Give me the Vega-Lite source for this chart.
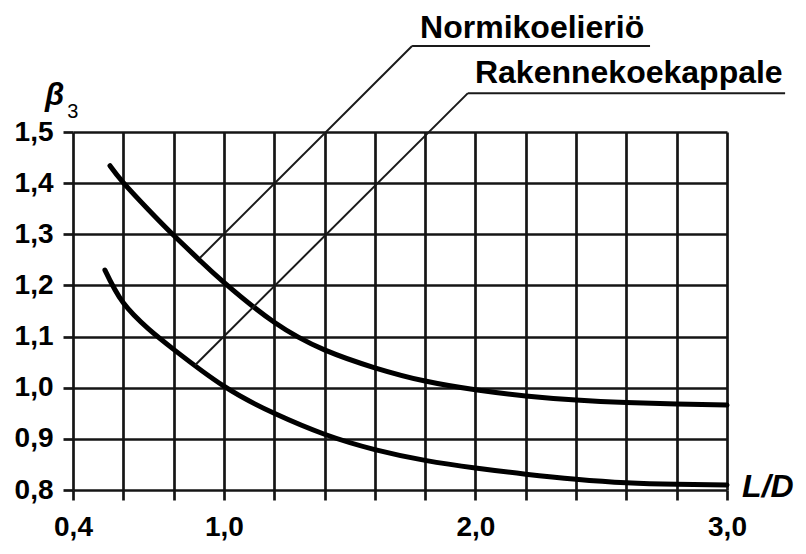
{
  "$schema": "https://vega.github.io/schema/vega-lite/v6.json",
  "width": 654,
  "height": 358,
  "autosize": {"type": "none"},
  "padding": {"left": 73, "top": 132, "right": 79, "bottom": 64},
  "background": "white",
  "config": {"view": {"stroke": null}},
  "datasets": {
    "curves": [
      {"series": "Normikoelieriö", "ld": 0.547, "beta": 1.434},
      {"series": "Normikoelieriö", "ld": 0.6, "beta": 1.401},
      {"series": "Normikoelieriö", "ld": 0.7, "beta": 1.348},
      {"series": "Normikoelieriö", "ld": 0.8, "beta": 1.298},
      {"series": "Normikoelieriö", "ld": 0.9, "beta": 1.251},
      {"series": "Normikoelieriö", "ld": 1.0, "beta": 1.206},
      {"series": "Normikoelieriö", "ld": 1.2, "beta": 1.128},
      {"series": "Normikoelieriö", "ld": 1.4, "beta": 1.074},
      {"series": "Normikoelieriö", "ld": 1.6, "beta": 1.039},
      {"series": "Normikoelieriö", "ld": 1.8, "beta": 1.013},
      {"series": "Normikoelieriö", "ld": 2.0, "beta": 0.996},
      {"series": "Normikoelieriö", "ld": 2.2, "beta": 0.984},
      {"series": "Normikoelieriö", "ld": 2.4, "beta": 0.976},
      {"series": "Normikoelieriö", "ld": 2.6, "beta": 0.971},
      {"series": "Normikoelieriö", "ld": 2.8, "beta": 0.968},
      {"series": "Normikoelieriö", "ld": 3.0, "beta": 0.966},
      {"series": "Rakennekoekappale", "ld": 0.527, "beta": 1.230},
      {"series": "Rakennekoekappale", "ld": 0.6, "beta": 1.166},
      {"series": "Rakennekoekappale", "ld": 0.7, "beta": 1.115},
      {"series": "Rakennekoekappale", "ld": 0.8, "beta": 1.075},
      {"series": "Rakennekoekappale", "ld": 1.0, "beta": 1.003},
      {"series": "Rakennekoekappale", "ld": 1.2, "beta": 0.950},
      {"series": "Rakennekoekappale", "ld": 1.4, "beta": 0.909},
      {"series": "Rakennekoekappale", "ld": 1.6, "beta": 0.879},
      {"series": "Rakennekoekappale", "ld": 1.8, "beta": 0.858},
      {"series": "Rakennekoekappale", "ld": 2.0, "beta": 0.843},
      {"series": "Rakennekoekappale", "ld": 2.2, "beta": 0.831},
      {"series": "Rakennekoekappale", "ld": 2.4, "beta": 0.821},
      {"series": "Rakennekoekappale", "ld": 2.6, "beta": 0.814},
      {"series": "Rakennekoekappale", "ld": 2.8, "beta": 0.811},
      {"series": "Rakennekoekappale", "ld": 3.0, "beta": 0.810}
    ],
    "leaders": [
      {"series": "Normikoelieriö", "x": 0.905, "y": 1.254, "x2": 1.748, "y2": 1.668},
      {"series": "Normikoelieriö", "x": 1.748, "y": 1.668, "x2": 2.694, "y2": 1.668},
      {"series": "Rakennekoekappale", "x": 0.885, "y": 1.044, "x2": 1.970, "y2": 1.576},
      {"series": "Rakennekoekappale", "x": 1.970, "y": 1.576, "x2": 3.231, "y2": 1.576}
    ],
    "annotations": [
      {"label": "Normikoelieriö", "x": 1.78, "y": 1.684},
      {"label": "Rakennekoekappale", "x": 1.998, "y": 1.595}
    ],
    "yTitle": [{"label": "β", "x": 0.289, "y": 1.553}],
    "ySub": [{"label": "3", "x": 0.377, "y": 1.528}],
    "xTitle": [{"label": "L/D", "x": 3.06, "y": 0.786}]
  },
  "layer": [
    {
      "data": {"name": "curves"},
      "mark": {"type": "line", "color": "black", "strokeWidth": 5, "strokeCap": "round", "interpolate": "natural", "clip": false},
      "encoding": {
        "x": {
          "field": "ld", "type": "quantitative",
          "scale": {"domain": [0.4, 3.0], "nice": false, "zero": false},
          "axis": {
            "title": null,
            "values": [0.4, 0.6, 0.8, 1, 1.2, 1.4, 1.6, 1.8, 2, 2.2, 2.4, 2.6, 2.8, 3],
            "grid": true, "gridColor": "#151515", "gridWidth": 2.7, "gridOpacity": 1,
            "domain": false,
            "ticks": true, "tickSize": 10, "tickColor": "#151515", "tickWidth": 2.7,
            "labelExpr": "indexof([0.4, 1, 2, 3], datum.value) >= 0 ? replace(format(datum.value, '.1f'), '.', ',') : ''",
            "labelFont": "Liberation Sans", "labelFontSize": 28, "labelFontWeight": "bold", "labelColor": "black",
            "labelPadding": 13, "labelOverlap": false, "labelFlush": false, "labelBound": false
          }
        },
        "y": {
          "field": "beta", "type": "quantitative",
          "scale": {"domain": [0.8, 1.5], "nice": false, "zero": false},
          "axis": {
            "title": null,
            "values": [0.8, 0.9, 1, 1.1, 1.2, 1.3, 1.4, 1.5],
            "grid": true, "gridColor": "#151515", "gridWidth": 2.7, "gridOpacity": 1,
            "domain": false,
            "ticks": true, "tickSize": 10, "tickColor": "#151515", "tickWidth": 2.7,
            "labelExpr": "replace(format(datum.value, '.1f'), '.', ',')",
            "labelFont": "Liberation Sans", "labelFontSize": 28, "labelFontWeight": "bold", "labelColor": "black",
            "labelPadding": 10, "labelOverlap": false, "labelFlush": false, "labelBound": false
          }
        },
        "detail": {"field": "series", "type": "nominal"}
      }
    },
    {
      "data": {"name": "leaders"},
      "mark": {"type": "rule", "color": "#1a1a1a", "strokeWidth": 2, "clip": false},
      "encoding": {
        "x": {"field": "x", "type": "quantitative"},
        "y": {"field": "y", "type": "quantitative"},
        "x2": {"field": "x2"},
        "y2": {"field": "y2"}
      }
    },
    {
      "data": {"name": "annotations"},
      "mark": {"type": "text", "font": "Liberation Sans", "fontSize": 32, "fontWeight": "bold", "color": "black", "align": "left", "baseline": "alphabetic", "clip": false},
      "encoding": {
        "x": {"field": "x", "type": "quantitative"},
        "y": {"field": "y", "type": "quantitative"},
        "text": {"field": "label"}
      }
    },
    {
      "data": {"name": "yTitle"},
      "mark": {"type": "text", "font": "Liberation Sans", "fontSize": 31, "fontWeight": "bold", "fontStyle": "italic", "color": "black", "align": "left", "baseline": "alphabetic", "clip": false},
      "encoding": {
        "x": {"field": "x", "type": "quantitative"},
        "y": {"field": "y", "type": "quantitative"},
        "text": {"field": "label"}
      }
    },
    {
      "data": {"name": "ySub"},
      "mark": {"type": "text", "font": "Liberation Sans", "fontSize": 20, "color": "black", "align": "left", "baseline": "alphabetic", "clip": false},
      "encoding": {
        "x": {"field": "x", "type": "quantitative"},
        "y": {"field": "y", "type": "quantitative"},
        "text": {"field": "label"}
      }
    },
    {
      "data": {"name": "xTitle"},
      "mark": {"type": "text", "font": "Liberation Sans", "fontSize": 32, "fontWeight": "bold", "fontStyle": "italic", "color": "black", "align": "left", "baseline": "alphabetic", "clip": false},
      "encoding": {
        "x": {"field": "x", "type": "quantitative"},
        "y": {"field": "y", "type": "quantitative"},
        "text": {"field": "label"}
      }
    }
  ]
}
